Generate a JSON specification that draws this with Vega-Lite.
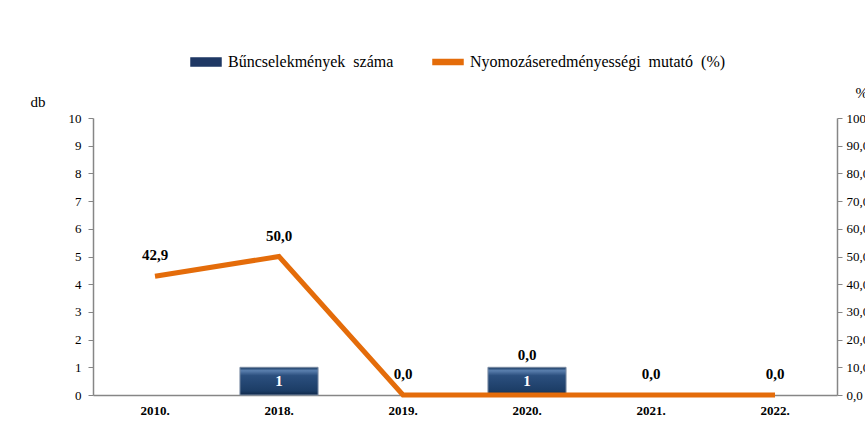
{
  "$schema": "https://vega.github.io/schema/vega-lite/v6.json",
  "width": 744,
  "height": 277,
  "autosize": {"type": "none"},
  "padding": {"left": 93, "top": 118, "right": 28, "bottom": 40},
  "background": "white",
  "config": {"view": {"stroke": null}, "font": "Liberation Serif", "axis": {"labelFont": "Liberation Serif", "titleFont": "Liberation Serif"}, "legend": {"labelFont": "Liberation Serif"}, "text": {"font": "Liberation Serif"}},
  "data": {"values": [
    {"year": "2010.", "count": 0, "pct": 42.9},
    {"year": "2018.", "count": 1, "pct": 50.0},
    {"year": "2019.", "count": 0, "pct": 0.0},
    {"year": "2020.", "count": 1, "pct": 0.0},
    {"year": "2021.", "count": 0, "pct": 0.0},
    {"year": "2022.", "count": 0, "pct": 0.0}
  ]},
  "encoding": {
    "x": {
      "field": "year", "type": "nominal", "sort": ["2010.", "2018.", "2019.", "2020.", "2021.", "2022."],
      "scale": {"domain": ["2010.", "2018.", "2019.", "2020.", "2021.", "2022."], "paddingInner": 0.37, "paddingOuter": 0.185},
      "axis": {"title": null, "labelAngle": 0, "labelFontWeight": "bold", "labelFontSize": 13, "labelColor": "black", "ticks": false, "domainColor": "#868686", "domainWidth": 1.5, "labelPadding": 9}
    }
  },
  "layer": [
    {
      "encoding": {
        "y": {"field": "count", "type": "quantitative",
          "scale": {"domain": [0, 10]},
          "axis": {"values": [0,1,2,3,4,5,6,7,8,9,10], "grid": false, "title": "db", "titleAngle": 0, "titleX": -63, "titleY": -9, "titleAlign": "left", "titleBaseline": "bottom", "titleFontWeight": "normal", "titleFontSize": 15, "labelFontSize": 13, "labelColor": "black", "domainColor": "#868686", "domainWidth": 1.5, "tickColor": "#868686", "tickSize": 5, "labelPadding": 7}
        }
      },
      "layer": [
        {
          "transform": [{"filter": "datum.count > 0"}],
          "mark": {"type": "bar", "stroke": "#7F8FA6", "strokeWidth": 1,
            "fill": {"x1": 0, "y1": 0, "x2": 0, "y2": 1, "gradient": "linear", "stops": [
              {"offset": 0, "color": "#16365C"},
              {"offset": 0.12, "color": "#5A7FAE"},
              {"offset": 0.3, "color": "#2B4F7E"},
              {"offset": 0.85, "color": "#1C3D66"},
              {"offset": 1, "color": "#10294A"}]}
          }
        },
        {
          "transform": [{"filter": "datum.count > 0"}],
          "mark": {"type": "text", "color": "white", "fontWeight": "bold", "fontSize": 15, "dy": 14, "font": "Liberation Serif"},
          "encoding": {"text": {"field": "count", "type": "quantitative"}}
        }
      ]
    },
    {
      "encoding": {
        "y": {"field": "pct", "type": "quantitative",
          "scale": {"domain": [0, 100]},
          "axis": {"orient": "right", "values": [0,10,20,30,40,50,60,70,80,90,100], "grid": false, "labelExpr": "replace(format(datum.value, '.1f'), '.', ',')", "title": "%", "titleAngle": 0, "titleX": 18, "titleY": -18, "titleAlign": "left", "titleBaseline": "bottom", "titleFontWeight": "normal", "titleFontSize": 15, "labelFontSize": 13, "labelColor": "black", "domainColor": "#868686", "domainWidth": 1.5, "tickColor": "#868686", "tickSize": 5, "labelPadding": 4}
        }
      },
      "layer": [
        {
          "mark": {"type": "line", "strokeWidth": 5},
          "encoding": {
            "color": {"datum": "Nyomozáseredményességi mutató (%)", "type": "nominal",
              "scale": {"domain": ["Bűncselekmények száma", "Nyomozáseredményességi mutató (%)"], "range": ["#1F3864", "#E46C0A"]},
              "legend": {"orient": "none", "legendX": 97, "legendY": -72, "direction": "horizontal", "title": null, "labelFont": "Liberation Serif", "labelFontSize": 16, "labelColor": "black", "labelLimit": 500, "columnPadding": 36, "symbolType": "M-1,-0.27H1V0.27H-1Z", "symbolSize": 900, "labelOffset": 6,
                "labelExpr": "replace(datum.label, regexp(' ', 'g'), '\u00a0 ')",
                "encode": {"symbols": {"update": {
                  "fill": {"signal": "datum.value === 'Bűncselekmények száma' ? '#1F3864' : '#E46C0A'"},
                  "stroke": {"value": "transparent"},
                  "fillOpacity": {"value": 1},
                  "shape": {"signal": "datum.value === 'Bűncselekmények száma' ? 'M-1,-0.27H1V0.27H-1Z' : 'M-1,-0.17H1V0.17H-1Z'"}
                }}}
              }
            }
          }
        },
        {
          "transform": [{"filter": "datum.year !== '2020.'"}],
          "mark": {"type": "text", "fontWeight": "bold", "fontSize": 15, "dy": -21, "color": "black", "font": "Liberation Serif",
            "text": {"expr": "replace(format(datum.pct, '.1f'), '.', ',')"}}
        },
        {
          "transform": [{"filter": "datum.year === '2020.'"}],
          "mark": {"type": "text", "fontWeight": "bold", "fontSize": 15, "dy": -40, "color": "black", "font": "Liberation Serif",
            "text": {"expr": "replace(format(datum.pct, '.1f'), '.', ',')"}}
        }
      ]
    }
  ],
  "resolve": {"scale": {"y": "independent"}}
}
